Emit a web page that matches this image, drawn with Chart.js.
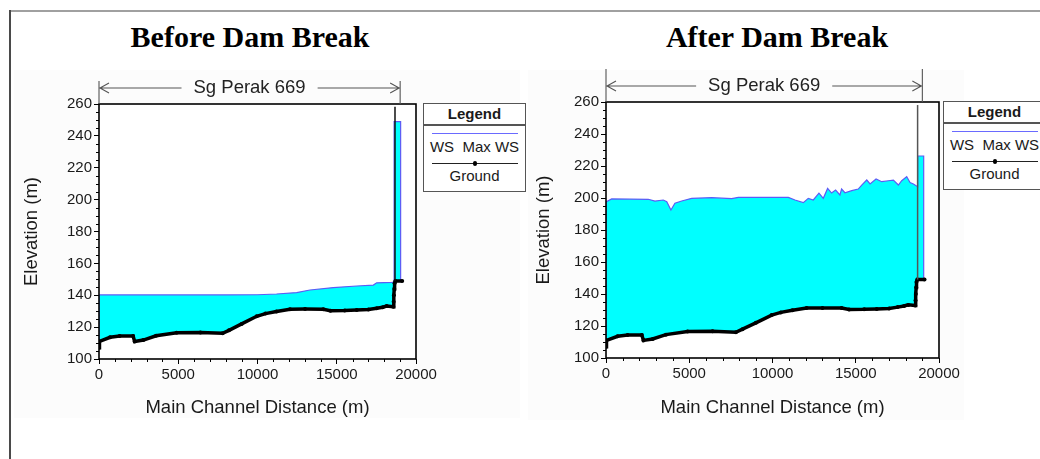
<!DOCTYPE html>
<html>
<head>
<meta charset="utf-8">
<script src="https://cdn.jsdelivr.net/npm/chart.js@4.4.0/dist/chart.umd.min.js"></script>
<style>
html,body{margin:0;padding:0;width:1040px;height:459px;overflow:hidden;background:#fff;font-family:"Liberation Sans",Arial,sans-serif;}
#frameTop{position:absolute;left:9px;top:10px;width:1031px;height:2px;background:#a0a0a0;}
#frameLeft{position:absolute;left:9px;top:10px;width:1.5px;height:449px;background:#4a4a4a;}
.panel{position:absolute;background:#fcfcfc;}
.title{position:absolute;width:400px;text-align:center;font-family:"Liberation Serif","Times New Roman",serif;font-weight:bold;font-size:30px;line-height:30px;color:#000;}
.cwrap{position:absolute;}
.legend{position:absolute;width:101px;height:87px;border:1.5px solid #555;background:#fff;font-size:15px;color:#1a1a1a;}
.legend .hdr{position:absolute;left:0;top:0;width:101px;height:20px;line-height:20px;text-align:center;font-weight:bold;}
.legend .sep{position:absolute;left:0;top:20px;width:101px;height:1.5px;background:#555;}
.legend .wsline{position:absolute;left:8px;top:28.5px;width:86px;height:1.6px;background:#6a6aff;}
.legend .t1{position:absolute;left:0;top:34px;width:101px;height:18px;line-height:18px;text-align:center;white-space:pre;}
.legend .gline{position:absolute;left:8px;top:58.5px;width:86px;height:1.3px;background:#222;}
.legend .gdot{position:absolute;left:48.5px;top:57px;width:4.5px;height:4.5px;border-radius:50%;background:#000;}
.legend .t2{position:absolute;left:0;top:63px;width:101px;height:18px;line-height:18px;text-align:center;}
</style>
</head>
<body>
<div class="panel" style="left:14px;top:70px;width:506px;height:348px;"></div>
<div class="panel" style="left:528px;top:70px;width:436px;height:350px;"></div>
<div id="frameTop"></div>
<div id="frameLeft"></div>
<div class="title" style="left:50px;top:22px;">Before Dam Break</div>
<div class="title" style="left:577px;top:22px;">After Dam Break</div>
<div class="cwrap" style="left:0px;top:60px;"><canvas id="c1" width="440" height="370"></canvas></div>
<div class="cwrap" style="left:510px;top:60px;"><canvas id="c2" width="453" height="370"></canvas></div>
<div class="legend" style="left:423px;top:103px;">
  <div class="hdr">Legend</div><div class="sep"></div>
  <div class="wsline"></div><div class="t1">WS  Max WS</div>
  <div class="gline"></div><div class="gdot"></div><div class="t2">Ground</div>
</div>
<div class="legend" style="left:943px;top:101px;">
  <div class="hdr">Legend</div><div class="sep"></div>
  <div class="wsline"></div><div class="t1">WS  Max WS</div>
  <div class="gline"></div><div class="gdot"></div><div class="t2">Ground</div>
</div>
<script>
// ---------------- data ----------------
const reachName = 'Sg Perak 669';
const reachEnd = 19000;
const xAxisTitle = 'Main Channel Distance (m)';
const yAxisTitle = 'Elevation (m)';
const xMin = 0, xMax = 20000, xMajor = 5000, xMinor = 1000;
const yMin = 100, yMax = 260, yMajor = 20, yMinor = 5;

const groundX = [0, 30, 700, 1300, 2150, 2250, 2800, 3600, 4900, 6400, 7800, 8200, 9000, 9950, 10500, 11200, 12050, 13000, 14150, 14600, 15500, 16260, 17000, 17520, 17900, 18150, 18570, 18590, 18610, 18630, 18650, 18700, 19130];
const groundY = [107, 111, 113.6, 114.4, 114.4, 111, 111.9, 114.6, 116.5, 116.7, 116.1, 118, 122, 126.8, 128.5, 129.8, 131.2, 131.3, 131.2, 130.3, 130.4, 130.7, 131, 131.8, 132.5, 133.2, 132.8, 136, 140, 144, 147.5, 149, 149];

const wsBeforeX = [0, 0, 2000, 4000, 6000, 8000, 10000, 11200, 12470, 13310, 14780, 16260, 17310, 17520, 18470, 18620, 18620, 19030, 19030];
const wsBeforeY = [107, 140.2, 140.2, 140.2, 140.2, 140.2, 140.3, 140.8, 141.7, 143.3, 144.8, 145.8, 146.4, 147.8, 148.1, 148.3, 248.9, 248.9, 149.5];

const wsAfterX = [0, 0, 340, 2540, 2940, 3440, 3650, 3900, 4140, 4545, 5150, 6350, 7550, 7950, 9350, 10950, 11350, 11850, 12150, 12450, 12790, 13050, 13310, 13550, 13790, 14050, 14150, 14350, 14760, 15150, 15360, 15660, 15860, 16220, 16560, 16960, 17260, 17560, 17760, 18060, 18260, 18460, 18720, 18720, 19080, 19080];
const wsAfterY = [107, 197.5, 199.4, 199.2, 198.1, 198.75, 197.7, 192.5, 196.7, 198.1, 199.8, 200.2, 199.6, 200.4, 200.4, 200.4, 198.75, 197.1, 199.8, 198.75, 203, 199.8, 206, 203.1, 205, 201.9, 205.6, 203.3, 204.6, 205.6, 208.1, 211.25, 208.75, 211.9, 210.2, 210.8, 211.2, 208.1, 210.8, 213.3, 209.6, 208.75, 207.1, 226.25, 226.25, 149.5];

const damBeforeX = [18675, 18675];
const damBeforeY = [149, 258.3];
const damAfterX = [18715, 18715];
const damAfterY = [149, 258.1];

// ---------------- helpers ----------------
const pts = (xs, ys) => xs.map((x, i) => ({x: x, y: ys[i]}));

const decor = {
  id: 'decor',
  beforeDraw(chart) {
    const {ctx, chartArea: a} = chart;
    ctx.save();
    ctx.fillStyle = '#fff';
    ctx.fillRect(a.left, a.top, a.right - a.left, a.bottom - a.top);
    ctx.restore();
  },
  afterDraw(chart, args, opts) {
    const {ctx, chartArea: a} = chart;
    const x = chart.scales.x, y = chart.scales.y;
    ctx.save();
    ctx.strokeStyle = '#000';
    ctx.lineWidth = 1;
    ctx.beginPath();
    for (let v = xMin; v <= xMax; v += xMinor) {
      if (v % xMajor === 0) continue;
      const px = Math.round(x.getPixelForValue(v)) + 0.5;
      ctx.moveTo(px, a.bottom); ctx.lineTo(px, a.bottom + 3);
    }
    for (let v = yMin; v <= yMax; v += yMinor) {
      if (v % yMajor === 0) continue;
      const py = Math.round(y.getPixelForValue(v)) + 0.5;
      ctx.moveTo(a.left - 3, py); ctx.lineTo(a.left, py);
    }
    ctx.stroke();
    ctx.lineWidth = 1.6;
    ctx.strokeRect(a.left, a.top, a.right - a.left, a.bottom - a.top);

    // reach bracket
    const x0 = x.getPixelForValue(0), x1 = x.getPixelForValue(reachEnd);
    const ay = a.top - opts.arrowOffset, vt = a.top - opts.vTop;
    ctx.font = '18.5px "Liberation Sans", Arial, sans-serif';
    const tw = ctx.measureText(reachName).width;
    const cx = (x0 + x1) / 2;
    ctx.strokeStyle = '#555';
    ctx.lineWidth = 1.1;
    ctx.beginPath();
    ctx.moveTo(x0, vt); ctx.lineTo(x0, a.top);
    ctx.moveTo(x1, vt); ctx.lineTo(x1, a.top);
    ctx.moveTo(x0, ay); ctx.lineTo(cx - tw / 2 - 12, ay);
    ctx.moveTo(cx + tw / 2 + 12, ay); ctx.lineTo(x1, ay);
    ctx.moveTo(x0 + 10, ay - 5); ctx.lineTo(x0 + 1, ay); ctx.lineTo(x0 + 10, ay + 5);
    ctx.moveTo(x1 - 10, ay - 5); ctx.lineTo(x1 - 1, ay); ctx.lineTo(x1 - 10, ay + 5);
    ctx.stroke();
    ctx.fillStyle = '#222';
    ctx.textAlign = 'center';
    ctx.textBaseline = 'middle';
    ctx.fillText(reachName, cx, ay);
    ctx.restore();
  }
};

function makeChart(id, wsX, wsY, damX, damY, cfg) {
  return new Chart(document.getElementById(id), {
    type: 'line',
    data: {
      datasets: [
        { label: 'Dam', data: pts(damX, damY), order: 1, borderColor: cfg.damColor, borderWidth: 1.5, pointRadius: 0, fill: false },
        { label: 'Ground', data: pts(groundX, groundY), order: 2, borderColor: '#000', borderWidth: 3.5,
          pointRadius: 2, pointBackgroundColor: '#000', pointBorderColor: '#000', pointBorderWidth: 0,
          fill: 'start', backgroundColor: '#ffffff' },
        { label: 'WS Max WS', data: pts(wsX, wsY), order: 3, borderColor: '#5c5cf5', borderWidth: 1.2,
          pointRadius: 0, fill: 'start', backgroundColor: '#00ffff' }
      ]
    },
    options: {
      responsive: false,
      devicePixelRatio: 1,
      animation: false,
      layout: { padding: { left: 0, top: cfg.padTop, right: 24, bottom: 0 } },
      plugins: {
        legend: { display: false },
        tooltip: { enabled: false },
        decor: { arrowOffset: 16, vTop: cfg.vTop }
      },
      scales: {
        x: {
          type: 'linear', min: xMin, max: xMax,
          afterFit: s => { s.height = cfg.xHeight; },
          ticks: { stepSize: xMajor, autoSkip: false, maxRotation: 0, padding: 2, color: '#1a1a1a',
                   font: { family: '"Liberation Sans", Arial, sans-serif', size: 15 }, callback: v => String(v) },
          grid: { drawOnChartArea: false, drawTicks: true, tickLength: 5, tickColor: '#000', tickWidth: 1 },
          border: { display: false },
          title: { display: true, text: xAxisTitle, color: '#1a1a1a', padding: { top: 0, bottom: 10.9 },
                   font: { family: '"Liberation Sans", Arial, sans-serif', size: 18.5 } }
        },
        y: {
          type: 'linear', min: yMin, max: yMax,
          afterFit: s => { s.width = cfg.yWidth; },
          ticks: { stepSize: yMajor, autoSkip: false, padding: 2, color: '#1a1a1a',
                   font: { family: '"Liberation Sans", Arial, sans-serif', size: 15 }, callback: v => String(v) },
          grid: { drawOnChartArea: false, drawTicks: true, tickLength: 5, tickColor: '#000', tickWidth: 1 },
          border: { display: false },
          title: { display: true, text: yAxisTitle, color: '#1a1a1a', padding: { top: cfg.yTitlePad, bottom: 0 },
                   font: { family: '"Liberation Sans", Arial, sans-serif', size: 18.5 } }
        }
      }
    },
    plugins: [decor]
  });
}

makeChart('c1', wsBeforeX, wsBeforeY, damBeforeX, damBeforeY,
  { padTop: 44, xHeight: 71, yWidth: 99, yTitlePad: 20.4, vTop: 23, damColor: '#111' });
makeChart('c2', wsAfterX, wsAfterY, damAfterX, damAfterY,
  { padTop: 42, xHeight: 72, yWidth: 96, yTitlePad: 22.4, vTop: 33, damColor: '#555' });
</script>
</body>
</html>
